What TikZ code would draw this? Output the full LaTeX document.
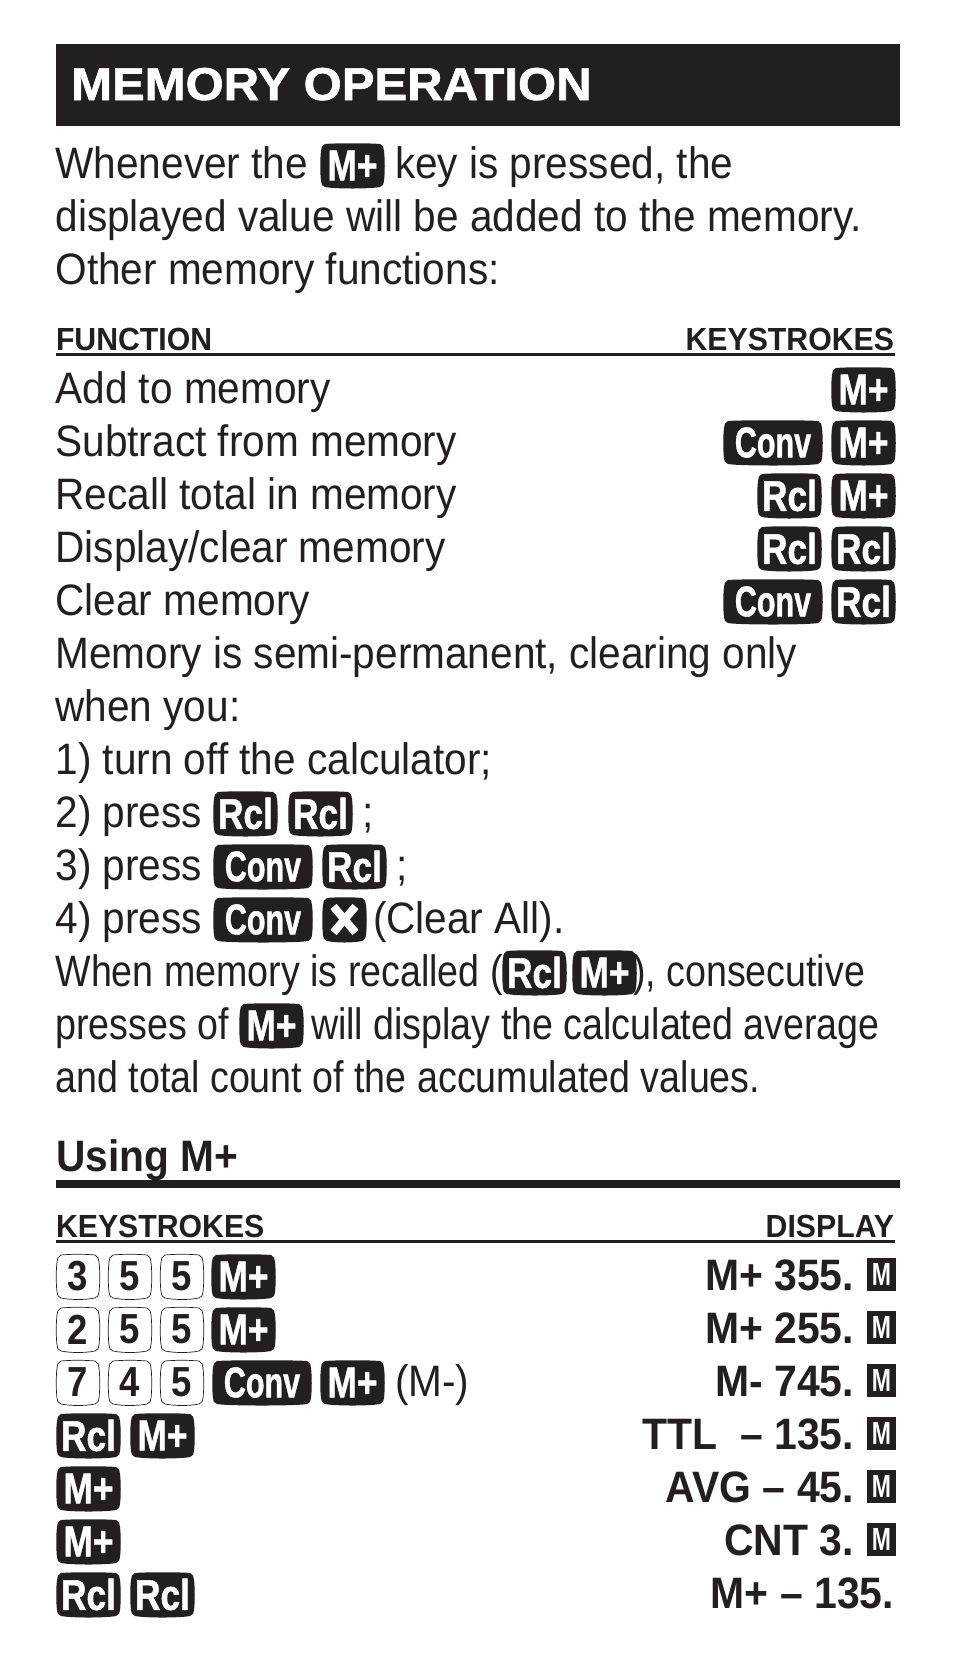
\documentclass[tikz,border=0pt]{standalone}
\usepackage{fontspec}
\setmainfont{Liberation Sans}
\newfontfamily\heavy[UprightFont={* Bold},FakeBold=1.2]{Liberation Sans}
\definecolor{ink}{HTML}{231F20}
\tikzset{x=1pt,y=-1pt,
 bodytext/.style={anchor=base west,inner sep=0,outer sep=0,text=ink,font=\fontsize{44}{44}\selectfont},
 bodyr/.style={anchor=base east,inner sep=0,outer sep=0,text=ink,font=\fontsize{44}{44}\selectfont\bfseries},
 head/.style={inner sep=0,outer sep=0,text=ink,font=\fontsize{32}{32}\selectfont\bfseries},
 keytext/.style={inner sep=0,outer sep=0,text=white,font=\fontsize{43}{43}\heavy},
 numtext/.style={inner sep=0,outer sep=0,text=ink,font=\fontsize{42}{42}\selectfont\bfseries},
 mbox/.style={fill=ink,minimum width=29pt,minimum height=33pt,inner sep=0,outer sep=0,text=white,font=\fontsize{32}{32}\selectfont\bfseries}}
% bowed key outline: left x, right x, baseline y
\newcommand\keyoutline[3]{(#1+4,#3-35) .. controls (#1+14,#3-36) and (#2-14,#3-36) .. (#2-4,#3-35)
  .. controls (#2-1,#3-34) and (#2,#3-31) .. (#2,#3-28)
  .. controls (#2+1,#3-20) and (#2+1,#3-6) .. (#2,#3+2)
  .. controls (#2,#3+5) and (#2-1,#3+7) .. (#2-4,#3+8)
  .. controls (#2-14,#3+10) and (#1+14,#3+10) .. (#1+4,#3+8)
  .. controls (#1+1,#3+7) and (#1,#3+5) .. (#1,#3+2)
  .. controls (#1-1,#3-6) and (#1-1,#3-20) .. (#1,#3-28)
  .. controls (#1,#3-31) and (#1+1,#3-34) .. (#1+4,#3-35) -- cycle}
% black key: name, left, baseline, text, width, xscale
\newcommand\blackkey[6]{\fill[ink] \keyoutline{#2}{#2+#5}{#3};
  \node[keytext] (#1) at (#2+#5/2,#3-13.5) {\scalebox{#6}[1]{#4}};}
\newcommand\keyM[3]{\blackkey{#1}{#2}{#3}{M+}{63}{.82}}
\newcommand\keyR[3]{\blackkey{#1}{#2}{#3}{Rcl}{63}{.82}}
\newcommand\keyC[3]{\blackkey{#1}{#2}{#3}{Conv}{98}{.71}}
\newcommand\numkey[4]{\draw[ink,line width=.7pt] \keyoutline{#2}{#2+42}{#3};
  \node[numtext] (#1) at (#2+21,#3-13.5) {\scalebox{.87}[1]{#4}};}
\newcommand\body[4]{\node[bodytext] (#1) at (#2,#3) {\scalebox{.922}[1]{#4}};}
\newcommand\bodyn[4]{\node[bodytext] (#1) at (#2,#3) {\scalebox{.855}[1]{#4}};}
\newcommand\dsp[3]{\node[bodyr] (#1) at (854,#2) {\scalebox{.93}[1]{#3}};}
\newcommand\mmark[2]{\node[mbox] (#1) at (881.5,#2-15.5) {\scalebox{.72}[1]{M}};}
\begin{document}
\begin{tikzpicture}
\useasboundingbox (0,0) rectangle (954,1674);
\fill[white] (0,0) rectangle (954,1674);
\fill[ink] (56,44) rectangle (900,126);
\node[anchor=base west,inner sep=0,text=white,font=\fontsize{46}{46}\heavy] (title) at (71,100) {\scalebox{1.066}[1]{MEMORY OPERATION}};
\body{l1a}{55.5}{178}{Whenever the}
\keyM{l1k}{321}{179}
\body{l1b}{395}{178}{key is pressed, the}
\body{l2}{55.5}{231}{displayed value will be added to the memory.}
\body{l3}{55.5}{284}{Other memory functions:}
\node[head,anchor=base west] (hf) at (56,350) {\scalebox{.945}[1]{FUNCTION}};
\node[head,anchor=base east] (hk) at (894,350) {\scalebox{.945}[1]{KEYSTROKES}};
\draw[ink,line width=3pt] (56,354.5) coordinate (r1a) -- (895,354.5) coordinate (r1b);
\body{r1}{55.5}{403}{Add to memory}
\keyM{a1}{832}{403}
\body{r2}{55.5}{456}{Subtract from memory}
\keyC{a2}{724}{456}\keyM{a3}{832}{456}
\body{r3}{55.5}{509}{Recall total in memory}
\keyR{a4}{758}{509}\keyM{a5}{832}{509}
\body{r4}{55.5}{562}{Display/clear memory}
\keyR{a6}{758}{562}\keyR{a7}{832}{562}
\body{r5}{55.5}{615}{Clear memory}
\keyC{a8}{724}{615}\keyR{a9}{832}{615}
\body{p1}{55.5}{668}{Memory is semi-permanent, clearing only}
\body{p2}{55.5}{721}{when you:}
\body{p3}{55.5}{774}{1) turn off the calculator;}
\body{p4}{55.5}{827}{2) press}
\keyR{b1}{214}{827}\keyR{b2}{289}{827}
\body{p4b}{362}{827}{;}
\body{p5}{55.5}{880}{3) press}
\keyC{b3}{214}{880}\keyR{b4}{323}{880}
\body{p5b}{396}{880}{;}
\body{p6}{55.5}{933}{4) press}
\keyC{b5}{214}{933}
\fill[ink] \keyoutline{323}{366}{933};
\coordinate (bxc) at (344.5,919.5);
\draw[white,line width=8pt] ([shift={(-11,-13)}]bxc) -- ([shift={(11,13)}]bxc);
\draw[white,line width=8pt] ([shift={(-11,13)}]bxc) -- ([shift={(11,-13)}]bxc);
\body{p6b}{373}{933}{(Clear All).}
\bodyn{q1a}{55.5}{986}{When memory is recalled (}
\keyR{c1}{503}{986}\keyM{c2}{573}{986}
\bodyn{q1b}{633}{986}{), consecutive}
\bodyn{q2a}{55.5}{1039}{presses of}
\keyM{c3}{240}{1039}
\bodyn{q2b}{311}{1039}{will display the calculated average}
\bodyn{q3}{55.5}{1092}{and total count of the accumulated values.}
\node[anchor=base west,inner sep=0,text=ink,font=\fontsize{44}{44}\selectfont\bfseries] (um) at (56,1171) {\scalebox{.925}[1]{Using M+}};
\fill[ink] (56,1179.5) rectangle (900,1187.5);
\node[head,anchor=base west] (hk2) at (56,1237) {\scalebox{.945}[1]{KEYSTROKES}};
\node[head,anchor=base east] (hd) at (894,1237) {\scalebox{.945}[1]{DISPLAY}};
\draw[ink,line width=3pt] (56,1241.5) coordinate (r2a) -- (895,1241.5) coordinate (r2b);
% rows
\numkey{d1}{57}{1290}{3}\numkey{d2}{109}{1290}{5}\numkey{d3}{161}{1290}{5}\keyM{d4}{212}{1290}
\dsp{e1}{1290}{M+ 355.}\mmark{m1}{1290}
\numkey{f1}{57}{1343}{2}\numkey{f2}{109}{1343}{5}\numkey{f3}{161}{1343}{5}\keyM{f4}{212}{1343}
\dsp{e2}{1343}{M+ 255.}\mmark{m2}{1343}
\numkey{g1}{57}{1396}{7}\numkey{g2}{109}{1396}{4}\numkey{g3}{161}{1396}{5}\keyC{g4}{213}{1396}\keyM{g5}{321}{1396}
\body{g6}{395}{1396}{(M-)}
\dsp{e3}{1396}{M- 745.}\mmark{m3}{1396}
\keyR{h1}{57}{1449}\keyM{h2}{131}{1449}
\dsp{e4}{1449}{TTL\ \ -- 135.}\mmark{m4}{1449}
\keyM{i1}{57}{1502}
\dsp{e5}{1502}{AVG -- 45.}\mmark{m5}{1502}
\keyM{j1}{57}{1555}
\dsp{e6}{1555}{CNT 3.}\mmark{m6}{1555}
\keyR{k1}{57}{1608}\keyR{k2}{131}{1608}
\node[bodyr] (e7) at (894,1608) {\scalebox{.93}[1]{M+ -- 135.}};
\end{tikzpicture}
\end{document}
